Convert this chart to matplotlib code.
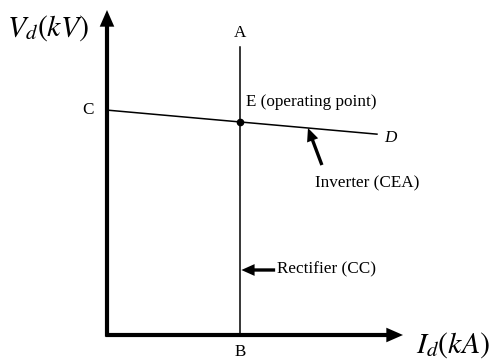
import matplotlib
matplotlib.use('Agg')
import matplotlib.pyplot as plt

plt.rcParams['font.family'] = 'Liberation Serif'
plt.rcParams['mathtext.fontset'] = 'stix'

# Operating characteristics (arbitrary units)
rect_current = 4.5                # constant-current rectifier line (A-B)
rect_v_top = 8.86                 # top end of the rectifier line at A
inv_current = [0.0, 9.12]         # inverter CEA line from C to D
inv_voltage = [6.92, 6.18]
axis_max = [10.0, 10.0]


def inv_v(i):
    # voltage on the inverter characteristic at current i
    slope = (inv_voltage[1] - inv_voltage[0]) / (inv_current[1] - inv_current[0])
    return inv_voltage[0] + slope * (i - inv_current[0])


fig = plt.figure(figsize=(4.97, 3.61), dpi=100)
ax = fig.add_axes([107 / 497, 26 / 361, 296 / 497, 325 / 361])
ax.set_xlim(0, axis_max[0])
ax.set_ylim(0, axis_max[1])
ax.axis('off')

# thick axes with arrow heads
axis_style = dict(width=3.0, headwidth=10.5, headlength=12, shrink=0,
                  color='black', lw=0)
ax.annotate('', xy=(axis_max[0], 0), xytext=(-0.05, 0), arrowprops=axis_style,
            annotation_clip=False)
ax.annotate('', xy=(0, axis_max[1]), xytext=(0, -0.05), arrowprops=axis_style,
            annotation_clip=False)

# rectifier (CC) and inverter (CEA) characteristics
ax.plot([rect_current, rect_current], [0, rect_v_top], color='black', lw=1.1)
ax.plot(inv_current, inv_voltage, color='black', lw=1.1)
ax.plot(rect_current, inv_v(rect_current), 'o', color='black', ms=4.5)

fs = 12.3
ax.text(-1.99, 9.45, r'$V_d(kV)$', fontsize=21.5, ha='center', va='center')
ax.text(11.69, -0.31, r'$I_d(kA)$', fontsize=21.5, ha='center', va='center')
ax.text(rect_current, 9.29, 'A', fontsize=fs, ha='center', va='center')
ax.text(rect_current, -0.52, 'B', fontsize=fs, ha='center', va='center')
ax.text(-0.64, inv_voltage[0], 'C', fontsize=fs, ha='center', va='center')
ax.text(9.56, 6.06, 'D', fontsize=fs, style='italic', ha='center', va='center')
ax.text(rect_current + 0.2, 7.17, 'E (operating point)', fontsize=fs,
        ha='left', va='center')
ax.text(7.03, 4.68, 'Inverter (CEA)', fontsize=fs, ha='left', va='center')
ax.text(5.74, 2.03, 'Rectifier (CC)', fontsize=fs, ha='left', va='center')

# pointer arrows
ptr_style = dict(width=2.4, headwidth=8.5, headlength=9.5, shrink=0,
                 color='black', lw=0)
ax.annotate('', xy=(6.79, inv_v(6.79)), xytext=(7.26, 5.23), arrowprops=ptr_style)
ax.annotate('', xy=(rect_current + 0.04, 2.0), xytext=(5.68, 2.0),
            arrowprops=ptr_style)

fig.savefig('out.png', dpi=100)
